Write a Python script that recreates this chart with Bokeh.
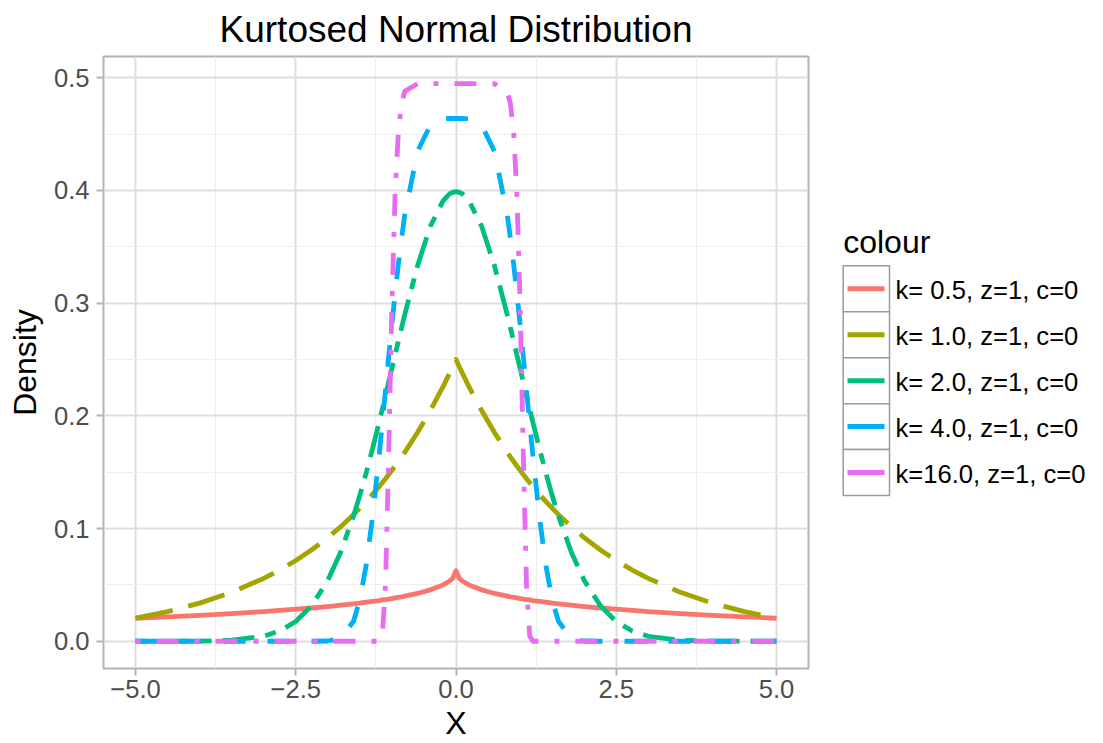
import numpy as np
from bokeh.plotting import figure
from bokeh.layouts import row
from bokeh.models import Range1d, FixedTicker, ColumnDataSource
from bokeh.core.properties import value
from bokeh.embed import file_html
from bokeh.resources import INLINE

FONT = "Liberation Sans"

# ---------------- data ----------------
x_vals = [-5.0, -4.5, -4.0, -3.5, -3.0, -2.75, -2.5, -2.25, -2.0, -1.8, -1.6, -1.5, -1.4, -1.3,
          -1.2, -1.15, -1.1, -1.05, -1.0, -0.95, -0.9, -0.85, -0.8, -0.6, -0.4, -0.2, -0.1, -0.05,
          0.0,
          0.05, 0.1, 0.2, 0.4, 0.6, 0.8, 0.85, 0.9, 0.95, 1.0, 1.05, 1.1, 1.15, 1.2, 1.3,
          1.4, 1.5, 1.6, 1.8, 2.0, 2.25, 2.5, 2.75, 3.0, 3.5, 4.0, 4.5, 5.0]

dens_k05 = [0.0204, 0.0216, 0.0230, 0.0245, 0.0263, 0.0273, 0.0284, 0.0295, 0.0308, 0.0320, 0.0332, 0.0339, 0.0346, 0.0353,
            0.0361, 0.0366, 0.0370, 0.0374, 0.0379, 0.0384, 0.0389, 0.0394, 0.0400, 0.0424, 0.0456, 0.0500, 0.0534, 0.0559,
            0.0625,
            0.0559, 0.0534, 0.0500, 0.0456, 0.0424, 0.0400, 0.0394, 0.0389, 0.0384, 0.0379, 0.0374, 0.0370, 0.0366, 0.0361, 0.0353,
            0.0346, 0.0339, 0.0332, 0.0320, 0.0308, 0.0295, 0.0284, 0.0273, 0.0263, 0.0245, 0.0230, 0.0216, 0.0204]

dens_k1 = [0.0205, 0.0263, 0.0338, 0.0434, 0.0558, 0.0632, 0.0716, 0.0812, 0.0920, 0.1016, 0.1123, 0.1181, 0.1241, 0.1305,
           0.1372, 0.1407, 0.1442, 0.1479, 0.1516, 0.1555, 0.1594, 0.1634, 0.1676, 0.1852, 0.2047, 0.2262, 0.2378, 0.2438,
           0.2500,
           0.2438, 0.2378, 0.2262, 0.2047, 0.1852, 0.1676, 0.1634, 0.1594, 0.1555, 0.1516, 0.1479, 0.1442, 0.1407, 0.1372, 0.1305,
           0.1241, 0.1181, 0.1123, 0.1016, 0.0920, 0.0812, 0.0716, 0.0632, 0.0558, 0.0434, 0.0338, 0.0263, 0.0205]

dens_k2 = [0.0000, 0.0000, 0.0001, 0.0009, 0.0044, 0.0091, 0.0175, 0.0317, 0.0540, 0.0790, 0.1109, 0.1295, 0.1497, 0.1714,
           0.1942, 0.2059, 0.2179, 0.2299, 0.2420, 0.2541, 0.2661, 0.2780, 0.2897, 0.3332, 0.3683, 0.3910, 0.3970, 0.3984,
           0.3989,
           0.3984, 0.3970, 0.3910, 0.3683, 0.3332, 0.2897, 0.2780, 0.2661, 0.2541, 0.2420, 0.2299, 0.2179, 0.2059, 0.1942, 0.1714,
           0.1497, 0.1295, 0.1109, 0.0790, 0.0540, 0.0317, 0.0175, 0.0091, 0.0044, 0.0009, 0.0001, 0.0000, 0.0000]

dens_k4 = [0.0000, 0.0000, 0.0000, 0.0000, 0.0000, 0.0000, 0.0000, 0.0000, 0.0002, 0.0024, 0.0175, 0.0369, 0.0679, 0.1112,
           0.1645, 0.1935, 0.2231, 0.2526, 0.2813, 0.3087, 0.3341, 0.3573, 0.3780, 0.4348, 0.4580, 0.4635, 0.4639, 0.4639,
           0.4639,
           0.4639, 0.4639, 0.4635, 0.4580, 0.4348, 0.3780, 0.3573, 0.3341, 0.3087, 0.2813, 0.2526, 0.2231, 0.1935, 0.1645, 0.1112,
           0.0679, 0.0369, 0.0175, 0.0024, 0.0002, 0.0000, 0.0000, 0.0000, 0.0000, 0.0000, 0.0000, 0.0000, 0.0000]

dens_k16 = [0.0000, 0.0000, 0.0000, 0.0000, 0.0000, 0.0000, 0.0000, 0.0000, 0.0000, 0.0000, 0.0000, 0.0000, 0.0000, 0.0000,
            0.0000, 0.0046, 0.0497, 0.1661, 0.3001, 0.3971, 0.4511, 0.4768, 0.4879, 0.4947, 0.4948, 0.4948, 0.4948, 0.4948,
            0.4948,
            0.4948, 0.4948, 0.4948, 0.4948, 0.4947, 0.4879, 0.4768, 0.4511, 0.3971, 0.3001, 0.1661, 0.0497, 0.0046, 0.0000, 0.0000,
            0.0000, 0.0000, 0.0000, 0.0000, 0.0000, 0.0000, 0.0000, 0.0000, 0.0000, 0.0000, 0.0000, 0.0000, 0.0000]

series_labels = ["k= 0.5, z=1, c=0", "k= 1.0, z=1, c=0", "k= 2.0, z=1, c=0",
                 "k= 4.0, z=1, c=0", "k=16.0, z=1, c=0"]
series_values = [dens_k05, dens_k1, dens_k2, dens_k4, dens_k16]
series_colors = ["#F8766D", "#A3A500", "#00BF7D", "#00B0F6", "#E76BF3"]
series_dashes = ["solid", "38 16", "11 11 32 11", "22 22", "5 16 22 16"]

x_ticks = [-5.0, -2.5, 0.0, 2.5, 5.0]
x_tick_labels = ["\u22125.0", "\u22122.5", "0.0", "2.5", "5.0"]
x_minor = [-3.75, -1.25, 1.25, 3.75]
y_ticks = [0.0, 0.1, 0.2, 0.3, 0.4, 0.5]
y_tick_labels = ["0.0", "0.1", "0.2", "0.3", "0.4", "0.5"]
y_minor = [0.05, 0.15, 0.25, 0.35, 0.45]

TOP, BOTTOM = 56, 74

# ---------------- main panel ----------------
p = figure(width=830, height=743, output_backend="svg", toolbar_location=None,
           x_range=Range1d(-5.5, 5.5), y_range=Range1d(-0.0242, 0.5189),
           min_border_left=103, min_border_right=22, min_border_top=TOP, min_border_bottom=BOTTOM)
p.background_fill_color = "white"
p.border_fill_color = "white"
p.outline_line_color = "#B3B3B3"
p.outline_line_width = 2

for vals, col, dash in zip(series_values, series_colors, series_dashes):
    src = ColumnDataSource(dict(x=x_vals, y=vals))
    p.line("x", "y", source=src, line_color=col, line_width=4.8, line_dash=dash,
           line_join="round", line_cap="butt")

xt = FixedTicker(ticks=x_ticks, minor_ticks=x_minor)
yt = FixedTicker(ticks=y_ticks, minor_ticks=y_minor)
p.xaxis.ticker = xt
p.yaxis.ticker = yt
p.xgrid.ticker = xt
p.ygrid.ticker = yt
p.xaxis.major_label_overrides = dict(zip(x_ticks, x_tick_labels))
p.yaxis.major_label_overrides = dict(zip(y_ticks, y_tick_labels))

for g in (p.xgrid[0], p.ygrid[0]):
    g.grid_line_color = "#DEDEDE"
    g.grid_line_width = 2
    g.minor_grid_line_color = "#EEEEEE"
    g.minor_grid_line_width = 1.2
    g.level = "image"

for ax in (p.xaxis[0], p.yaxis[0]):
    ax.axis_line_color = None
    ax.major_tick_line_color = "#B3B3B3"
    ax.major_tick_line_width = 2
    ax.major_tick_in = 0
    ax.major_tick_out = 7
    ax.minor_tick_line_color = None
    ax.major_label_text_font = FONT
    ax.major_label_text_font_size = "25.6px"
    ax.major_label_text_color = "#4D4D4D"
    ax.axis_label_text_font = FONT
    ax.axis_label_text_font_size = "32px"
    ax.axis_label_text_font_style = "normal"
    ax.axis_label_text_color = "black"

p.xaxis.axis_label = "X"
p.yaxis.axis_label = "Density"
p.xaxis.major_label_standoff = 4
p.xaxis.axis_label_standoff = 4
p.yaxis.major_label_standoff = 7
p.yaxis.axis_label_standoff = 8

p.title.text = "Kurtosed Normal Distribution"
p.title.align = "center"
p.title.vertical_align = "top"
p.title.text_font = FONT
p.title.text_font_size = "37px"
p.title.text_font_style = "normal"
p.title.text_color = "black"

# ---------------- legend panel (coordinates = page pixels, frame aligned with main panel) ----------------
L = figure(width=273, height=743, output_backend="svg", toolbar_location=None,
           x_range=Range1d(0, 273), y_range=Range1d(743 - BOTTOM, TOP),
           x_axis_type=None, y_axis_type=None,
           min_border_left=0, min_border_right=0, min_border_top=TOP, min_border_bottom=BOTTOM)
L.title = None
L.outline_line_color = None
L.background_fill_color = "white"
L.border_fill_color = "white"
L.xgrid.visible = False
L.ygrid.visible = False

n = len(series_labels)
key_top = 265.7 + 46.0 * np.arange(n)
key_bot = key_top + 46.0
key_mid = key_top + 23.0
L.quad(left=12.7, right=59.0, top=key_top, bottom=key_bot,
       fill_color="white", line_color="#9A9A9A", line_width=1.5)
L.segment(x0=17.0, x1=54.0, y0=key_mid, y1=key_mid, line_color=series_colors, line_width=5)
L.text(x=65.0, y=key_mid + 1.4, text=series_labels, text_font=value(FONT),
       text_font_size="25.6px", text_baseline="middle", text_align="left", text_color="black")
L.text(x=[12.7], y=[242.0], text=["colour"], text_font=value(FONT), text_font_size="32px",
       text_baseline="middle", text_align="left", text_color="black")

layout = row(p, L, spacing=0)
open("out.html", "w").write(file_html(layout, INLINE))
